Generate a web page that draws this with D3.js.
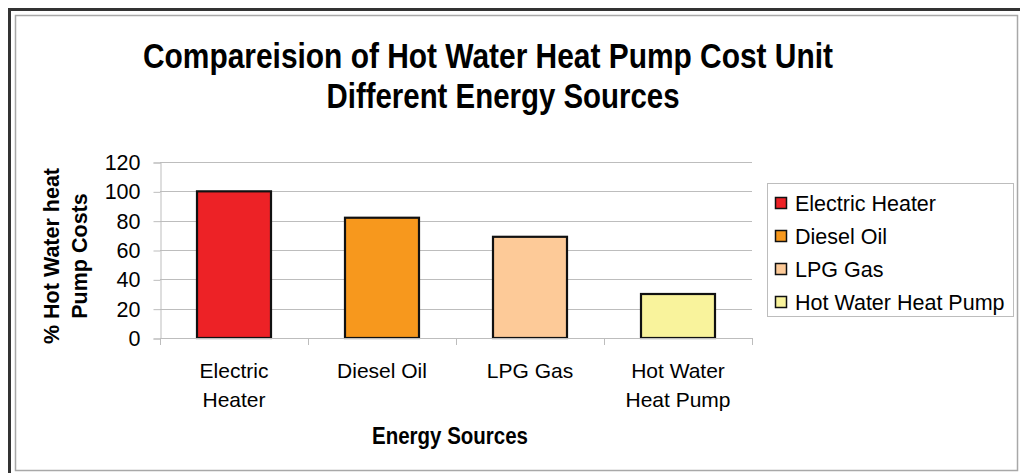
<!DOCTYPE html>
<html>
<head>
<meta charset="utf-8">
<script src="https://cdn.jsdelivr.net/npm/d3@7"></script>
<style>
body { margin: 0; background: #fff; }
text { font-family: "Liberation Sans", Arial, sans-serif; fill: #000; }
</style>
</head>
<body>
<script>
var categories = ["Electric Heater", "Diesel Oil", "LPG Gas", "Hot Water Heat Pump"];
var tickLines = [["Electric", "Heater"], ["Diesel Oil"], ["LPG Gas"], ["Hot Water", "Heat Pump"]];
var costs = [100, 82, 69, 30];
var colors = ["#ed2226", "#f7981d", "#fdca98", "#f9f39c"];
var yTicks = [0, 20, 40, 60, 80, 100, 120];

var width = 1020, height = 473;
var svg = d3.select("body")
    .append("svg")
    .attr("width", width)
    .attr("height", height);

// frame
svg.append("line").attr("x1", 8).attr("x2", width).attr("y1", 9.5).attr("y2", 9.5)
    .attr("stroke", "#333").attr("stroke-width", 3);
svg.append("line").attr("x1", 9.5).attr("x2", 9.5).attr("y1", 8).attr("y2", height)
    .attr("stroke", "#333").attr("stroke-width", 3);
svg.append("rect").attr("x", 15.5).attr("y", 15.5).attr("width", 1002).attr("height", 455)
    .attr("fill", "#fff").attr("stroke", "#a8a8a8").attr("stroke-width", 1.5);

// title
svg.append("text").attr("x", 488).attr("y", 68).attr("text-anchor", "middle")
    .attr("font-size", 35).attr("font-weight", "bold")
    .attr("textLength", 690).attr("lengthAdjust", "spacingAndGlyphs")
    .text("Compareision of Hot Water Heat Pump Cost Unit");
svg.append("text").attr("x", 503).attr("y", 108).attr("text-anchor", "middle")
    .attr("font-size", 35).attr("font-weight", "bold")
    .attr("textLength", 353).attr("lengthAdjust", "spacingAndGlyphs")
    .text("Different Energy Sources");

var x = d3.scaleBand().domain(categories).range([160, 752]).paddingInner(0.5).paddingOuter(0.25);
var y = d3.scaleLinear().domain([0, 120]).range([338, 162]);

// gridlines
svg.append("g").selectAll("line")
    .data(yTicks.filter(function (d) { return d > 0; }))
    .enter().append("line")
    .attr("x1", 160).attr("x2", 752)
    .attr("y1", function (d) { return Math.round(y(d)) + 0.5; })
    .attr("y2", function (d) { return Math.round(y(d)) + 0.5; })
    .attr("stroke", "#bdbdbd").attr("stroke-width", 1);

// y axis
var yAxis = svg.append("g")
    .attr("transform", "translate(160.5,0.5)")
    .call(d3.axisLeft(y).tickValues(yTicks).tickSize(7).tickPadding(13));
yAxis.select(".domain").attr("stroke", "#bdbdbd");
yAxis.selectAll(".tick line").attr("stroke", "#bdbdbd");
yAxis.selectAll("text").attr("font-size", 21.5).attr("fill", "#000")
    .style("font-family", "Liberation Sans, Arial, sans-serif");

// bars
svg.append("g").selectAll("rect")
    .data(costs)
    .enter().append("rect")
    .attr("x", function (d, i) { return x(categories[i]); })
    .attr("y", function (d) { return y(d); })
    .attr("width", x.bandwidth())
    .attr("height", function (d) { return y(0) - y(d); })
    .attr("fill", function (d, i) { return colors[i]; })
    .attr("stroke", "#111").attr("stroke-width", 2.2);

// x axis
var xStep = x.step();
var xAxisG = svg.append("g");
xAxisG.append("line").attr("x1", 160).attr("x2", 752).attr("y1", 338.5).attr("y2", 338.5)
    .attr("stroke", "#bdbdbd");
xAxisG.selectAll("line.tk")
    .data(d3.range(categories.length + 1))
    .enter().append("line").attr("class", "tk")
    .attr("x1", function (d) { return Math.round(x(categories[0]) - xStep * 0.25 + d * xStep) + 0.5; })
    .attr("x2", function (d) { return Math.round(x(categories[0]) - xStep * 0.25 + d * xStep) + 0.5; })
    .attr("y1", 338).attr("y2", 345)
    .attr("stroke", "#bdbdbd");

var xLabels = xAxisG.selectAll("text.cat")
    .data(tickLines)
    .enter().append("text").attr("class", "cat")
    .attr("text-anchor", "middle")
    .attr("font-size", 21)
    .attr("x", function (d, i) { return x(categories[i]) + x.bandwidth() / 2; })
    .attr("y", 378);
xLabels.selectAll("tspan")
    .data(function (d) { return d; })
    .enter().append("tspan")
    .attr("x", function () { return d3.select(this.parentNode).attr("x"); })
    .attr("dy", function (d, i) { return i === 0 ? 0 : 29; })
    .text(function (d) { return d; });

// axis titles
svg.append("text").attr("x", 450).attr("y", 444).attr("text-anchor", "middle")
    .attr("font-size", 23).attr("font-weight", "bold")
    .attr("textLength", 156).attr("lengthAdjust", "spacingAndGlyphs")
    .text("Energy Sources");

var yTitle = svg.append("text")
    .attr("transform", "translate(59,256) rotate(-90)")
    .attr("text-anchor", "middle")
    .attr("font-size", 21.5).attr("font-weight", "bold");
yTitle.append("tspan").attr("x", 0).attr("dy", 0).text("% Hot Water heat");
yTitle.append("tspan").attr("x", 0).attr("dy", 28).text("Pump Costs");

// legend
var legend = svg.append("g");
legend.append("rect").attr("x", 767.5).attr("y", 183.5).attr("width", 246).attr("height", 133)
    .attr("fill", "#fff").attr("stroke", "#bdbdbd");
var items = legend.selectAll("g.item")
    .data(categories)
    .enter().append("g").attr("class", "item")
    .attr("transform", function (d, i) { return "translate(775," + (203 + i * 33) + ")"; });
items.append("rect")
    .attr("x", 0.5).attr("y", -5.5).attr("width", 11).attr("height", 11)
    .attr("fill", function (d, i) { return colors[i]; })
    .attr("stroke", "#111").attr("stroke-width", 1.5);
items.append("text")
    .attr("x", 20).attr("y", 7.5)
    .attr("font-size", 21.5)
    .text(function (d) { return d; });
</script>
</body>
</html>
